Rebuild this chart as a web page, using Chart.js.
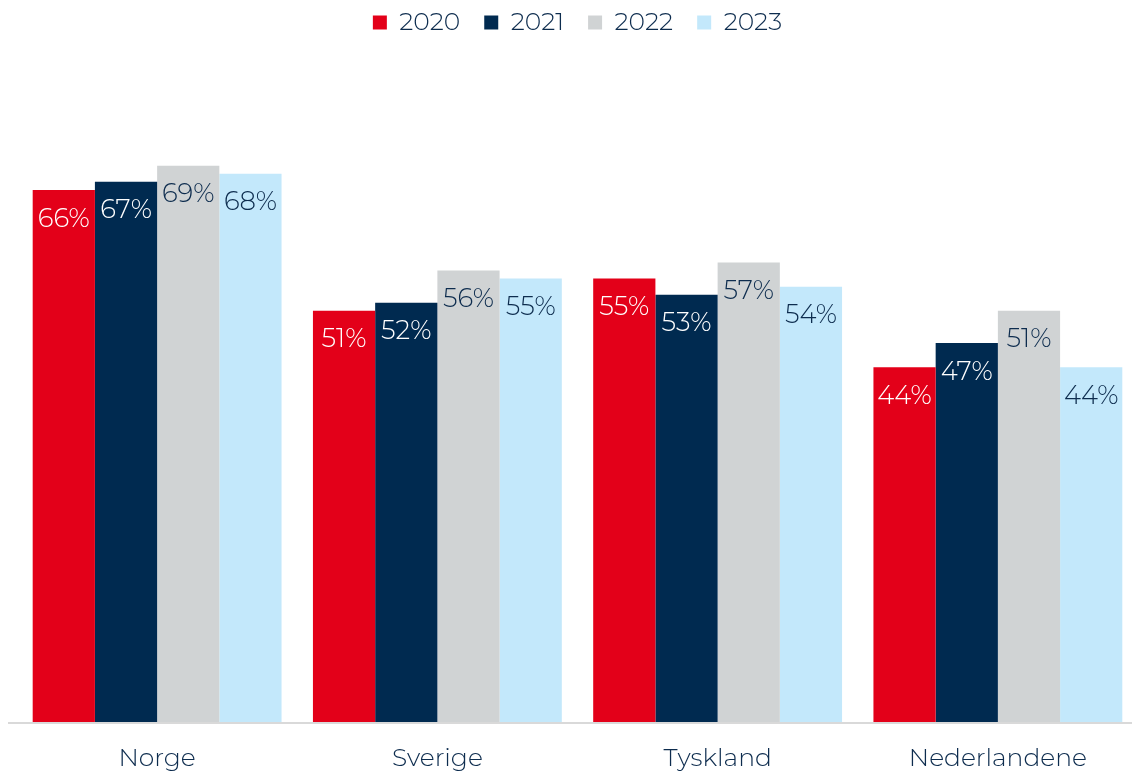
<!DOCTYPE html>
<html>
<head>
<meta charset="utf-8">
<script src="https://cdn.jsdelivr.net/npm/chart.js@4"></script>
<style>
  html, body { margin: 0; padding: 0; background: #fff; overflow: hidden; }
  #wrap { width: 1140px; height: 774px; position: relative; }
</style>
</head>
<body>
<div id="wrap"><canvas id="myChart"></canvas></div>
<script>
// data
const countries = ['Norge', 'Sverige', 'Tyskland', 'Nederlandene']
const years = ['2020', '2021', '2022', '2023']
const v2020 = [66, 51, 55, 44]
const v2021 = [67, 52, 53, 47]
const v2022 = [69, 56, 57, 51]
const v2023 = [68, 55, 54, 44]

const colors = ['#E30019', '#002A50', '#D0D3D4', '#C3E8FB']
const labelColors = ['#ffffff', '#ffffff', '#0D2C4E', '#0D2C4E']
const textColor = '#0D2C4E'
const fontFamily = "Montserrat, 'Open Sans', Lato, sans-serif"

// extra room under the legend
const legendSpace = {
  id: 'legendSpace',
  beforeInit(chart) {
    const fit = chart.legend.fit
    chart.legend.fit = function () {
      fit.bind(chart.legend)()
      this.height += 32
    }
  }
}

// values inside the top of each bar + axis line
const barLabels = {
  id: 'barLabels',
  afterDatasetsDraw(chart) {
    const ctx = chart.ctx
    ctx.save()
    // axis line
    ctx.strokeStyle = '#D9D9D9'
    ctx.lineWidth = 2
    ctx.beginPath()
    ctx.moveTo(8, chart.chartArea.bottom + 1)
    ctx.lineTo(chart.width, chart.chartArea.bottom + 1)
    ctx.stroke()

    ctx.font = '300 26px ' + fontFamily
    ctx.textAlign = 'center'
    ctx.textBaseline = 'middle'
    chart.data.datasets.forEach((ds, i) => {
      const meta = chart.getDatasetMeta(i)
      meta.data.forEach((bar, j) => {
        ctx.fillStyle = labelColors[i]
        ctx.fillText(Math.round(ds.data[j]) + '%', bar.x, bar.y + 29)
      })
    })
    ctx.restore()
  }
}

const seriesValues = [v2020, v2021, v2022, v2023]

new Chart(document.getElementById('myChart'), {
  type: 'bar',
  data: {
    labels: countries,
    datasets: years.map((y, i) => ({
      label: y,
      data: seriesValues[i],
      backgroundColor: colors[i],
      borderWidth: 0,
      categoryPercentage: 0.888,
      barPercentage: 1.0
    }))
  },
  options: {
    responsive: true,
    maintainAspectRatio: false,
    animation: false,
    layout: {
      padding: { left: 17, right: 2, top: -14, bottom: -22 }
    },
    scales: {
      x: {
        grid: { display: false, drawTicks: false },
        border: { display: false },
        ticks: {
          color: textColor,
          padding: 22,
          font: { family: fontFamily, size: 25, weight: '300' }
        }
      },
      y: {
        display: false,
        min: 0,
        max: 80
      }
    },
    plugins: {
      legend: {
        position: 'top',
        labels: {
          color: textColor,
          boxWidth: 14,
          boxHeight: 14,
          padding: 24,
          font: { family: fontFamily, size: 25, weight: '300' }
        }
      },
      tooltip: { enabled: false }
    }
  },
  plugins: [legendSpace, barLabels]
})
</script>
</body>
</html>
